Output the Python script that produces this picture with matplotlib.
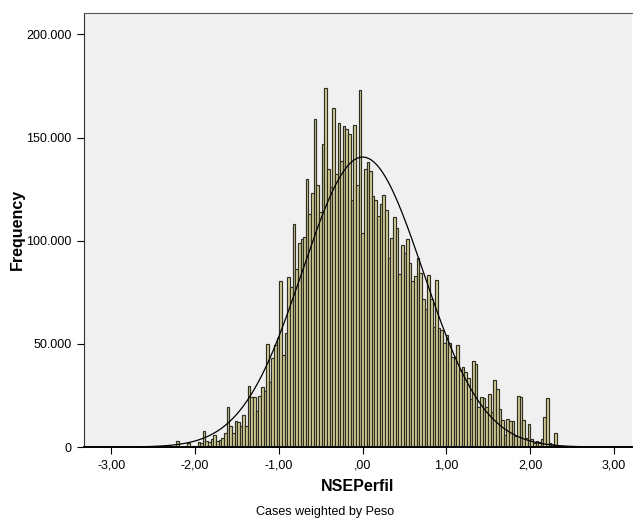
import numpy as np
import matplotlib.pyplot as plt
from matplotlib.ticker import FuncFormatter

# histogram bins (NSEPerfil), first bin centre and width
bin_start = -2.206
bin_width = 0.0315

# weighted frequency per bin, in thousands
freq_k = [
    3.0, 0, 0, 0, 2.0, 0, 0, 0,
    2.5, 2.0, 8.0, 3.0, 2.5, 4.0, 6.0, 3.0, 3.5, 4.5,
    7.0, 19.5, 10.0, 7.0, 12.6, 12.0, 10.0, 15.5, 10.0, 29.7,
    24.5, 24.5, 17.4, 25.0, 29.0, 27.0, 50.0, 31.7, 43.0, 49.5,
    52.7, 80.7, 44.6, 55.1, 82.3, 77.5, 108.0, 86.5, 99.0, 101.0,
    102.0, 130.0, 113.0, 123.0, 159.0, 127.0, 114.0, 147.0, 174.0, 135.0,
    126.0, 164.5, 132.5, 157.0, 138.7, 155.6, 154.0, 152.0, 120.0, 156.0,
    127.0, 173.0, 104.0, 135.0, 138.0, 134.0, 121.7, 120.0, 112.0, 117.7,
    122.0, 115.0, 91.8, 101.5, 111.7, 106.4, 83.8, 98.0, 94.0, 100.7,
    89.4, 80.5, 83.0, 91.8, 84.6, 71.7, 66.8, 83.3, 72.0, 58.0,
    81.0, 57.5, 57.0, 50.6, 54.3, 50.3, 43.5, 43.8, 49.5, 37.3,
    38.9, 36.5, 33.3, 23.1, 41.7, 40.3, 19.5, 24.1, 23.6, 19.2,
    25.7, 16.8, 32.4, 28.4, 18.4, 13.2, 5.8, 13.5, 12.7, 12.7,
    5.2, 24.8, 24.5, 13.2, 4.2, 11.0, 3.9, 2.0, 3.0, 2.6,
    3.9, 14.4, 23.6, 2.0, 1.5, 6.8,
]

# fitted normal curve
normal_mean = 0.0
normal_sd = 0.72
n_cases = 8_055_000

x_ticks = [-3, -2, -1, 0, 1, 2, 3]
x_ticklabels = ['-3,00', '-2,00', '-1,00', ',00', '1,00', '2,00', '3,00']
y_ticks = [0, 50000, 100000, 150000, 200000]

plt.rcParams['font.family'] = ['Liberation Sans', 'DejaVu Sans']

freq = np.array(freq_k) * 1000
centers = bin_start + bin_width * np.arange(len(freq))

fig = plt.figure(figsize=(6.33, 5.26), dpi=100)
ax = fig.add_axes([0.132, 0.150, 0.866, 0.826])
ax.set_facecolor('#f0f0f0')

ax.bar(centers, freq, width=bin_width, color='#d4cf98', edgecolor='#2e2e22',
       linewidth=0.85, align='center', zorder=2)

xs = np.linspace(-3.4, 3.3, 600)
pdf = np.exp(-0.5 * ((xs - normal_mean) / normal_sd) ** 2) / (normal_sd * np.sqrt(2 * np.pi))
ax.plot(xs, pdf * n_cases * bin_width, color='black', linewidth=0.9, zorder=3)

ax.set_xlim(-3.33, 3.21)
ax.set_ylim(0, 210600)
ax.set_xticks(x_ticks)
ax.set_xticklabels(x_ticklabels)
ax.set_yticks(y_ticks)
ax.yaxis.set_major_formatter(FuncFormatter(lambda v, p: f'{int(v):,}'.replace(',', '.')))
ax.tick_params(axis='both', direction='out', length=5, width=0.8, labelsize=9, colors='black')
ax.tick_params(axis='x', pad=4)

ax.spines['right'].set_visible(False)
ax.spines['top'].set_color('#555555')
ax.spines['left'].set_color('#333333')
ax.spines['bottom'].set_linewidth(1.4)

ax.set_xlabel('NSEPerfil', fontsize=11.5, fontweight='bold', labelpad=5)
ax.set_ylabel('Frequency', fontsize=11.5, fontweight='bold', labelpad=1)

fig.text(0.514, 0.026, 'Cases weighted by Peso', ha='center', va='center', fontsize=9)

fig.savefig('out.png', dpi=100)
